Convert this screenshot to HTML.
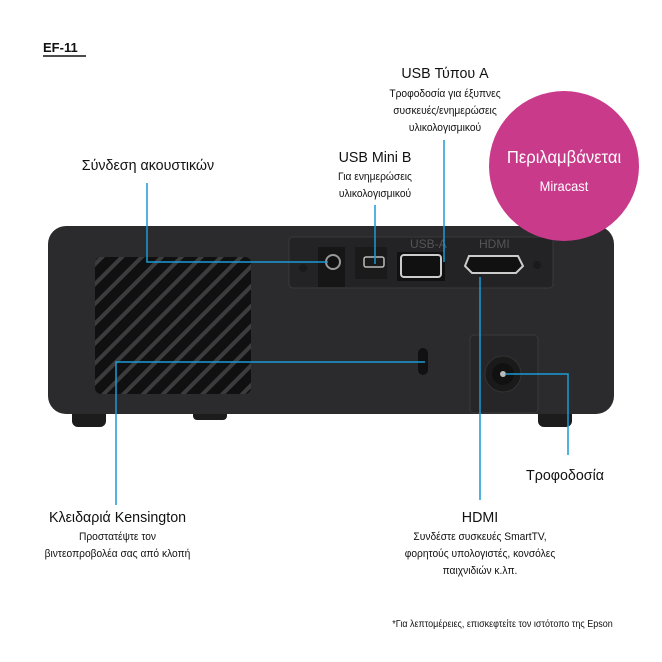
<!DOCTYPE html>
<html><head><meta charset="utf-8"><style>
body{margin:0;width:662px;height:662px;background:#fff;position:relative;overflow:hidden;font-family:"Liberation Sans","DejaVu Sans",sans-serif;color:#111}
.t{position:absolute;white-space:nowrap;text-align:center;transform-origin:center top}
.h{font-size:15px;transform:scaleX(0.95)}
.s{font-size:11px;line-height:17px;transform:scaleX(0.93)}
</style></head><body>
<svg width="662" height="662" style="position:absolute;left:0;top:0">
<defs><pattern id="g" width="14" height="14" patternUnits="userSpaceOnUse" patternTransform="rotate(-45)"><rect width="14" height="14" fill="#101011"/><rect width="14" height="4" fill="#3c3c3e"/></pattern></defs>
<rect x="72" y="405" width="34" height="22" rx="6" fill="#1c1c1d"/>
<rect x="193" y="405" width="34" height="15" rx="4" fill="#1c1c1d"/>
<rect x="538" y="405" width="34" height="22" rx="6" fill="#1c1c1d"/>
<rect x="48" y="226" width="566" height="188" rx="18" fill="#2b2b2d"/>
<rect x="95" y="257" width="156" height="137" rx="6" fill="url(#g)"/>
<rect x="289" y="237" width="264" height="51" rx="4" fill="#232325" stroke="#3a3a3c"/>
<rect x="318" y="247" width="27" height="40" fill="#161617"/>
<circle cx="333" cy="262" r="7" fill="#111" stroke="#999" stroke-width="2"/>
<circle cx="303" cy="268" r="4" fill="#1a1a1a"/>
<circle cx="537" cy="265" r="4" fill="#1a1a1a"/>
<rect x="355" y="247" width="32" height="32" fill="#1a1a1b"/>
<rect x="364" y="257" width="20" height="10" rx="2" fill="none" stroke="#bbb" stroke-width="1.5"/>
<rect x="397" y="252" width="48" height="29" fill="#111"/>
<rect x="401" y="255" width="40" height="22" rx="3" fill="none" stroke="#ccc" stroke-width="2"/>
<text x="410" y="248" font-size="12" fill="#555" font-family="Liberation Sans">USB-A</text>
<text x="479" y="248" font-size="12" fill="#555" font-family="Liberation Sans">HDMI</text>
<path d="M469 256 L518 256 L523 266 L516 273 L472 273 L465 266 Z" fill="#111" stroke="#ccc" stroke-width="2"/>
<rect x="418" y="348" width="10" height="27" rx="5" fill="#111"/>
<rect x="470" y="335" width="68" height="78" rx="4" fill="#262628" stroke="#3a3a3c"/>
<circle cx="503" cy="374" r="18" fill="#1a1a1b" stroke="#333"/>
<circle cx="503" cy="374" r="11" fill="#111"/>
<circle cx="503" cy="374" r="3" fill="#bbb"/>
<g stroke="#1a9ad6" stroke-width="1.5" fill="none">
<path d="M147 183 V262 H328"/>
<path d="M375 205 V264"/>
<path d="M444 140 V262"/>
<path d="M480 277 V500"/>
<path d="M116 505 V362 H425"/>
<path d="M505 374 H568 V455"/>
</g>
<circle cx="564" cy="166" r="75" fill="#c93a8a"/>
<line x1="43" y1="56" x2="86" y2="56" stroke="#111" stroke-width="1.5"/>
</svg>
<div class="t" style="left:43px;top:40px;font-size:13px;font-weight:bold">EF-11</div>
<div class="t h" style="left:370px;top:65px;width:150px">USB Τύπου A</div>
<div class="t s" style="left:355px;top:86px;width:180px">Τροφοδοσία για έξυπνες<br>συσκευές/ενημερώσεις<br>υλικολογισμικού</div>
<div class="t h" style="left:53px;top:157px;width:190px">Σύνδεση ακουστικών</div>
<div class="t h" style="left:312px;top:149px;width:126px">USB Mini B</div>
<div class="t s" style="left:312px;top:169px;width:126px">Για ενημερώσεις<br>υλικολογισμικού</div>
<div class="t" style="left:474px;top:147px;width:180px;font-size:17.5px;color:#fff;transform:scaleX(0.95)">Περιλαμβάνεται</div>
<div class="t" style="left:490px;top:178px;width:148px;font-size:14px;color:#fff;transform:scaleX(0.92)">Miracast</div>
<div class="t h" style="left:505px;top:467px;width:120px">Τροφοδοσία</div>
<div class="t h" style="left:20px;top:509px;width:195px">Κλειδαριά Kensington</div>
<div class="t s" style="left:20px;top:529px;width:195px">Προστατέψτε τον<br>βιντεοπροβολέα σας από κλοπή</div>
<div class="t h" style="left:410px;top:509px;width:140px">HDMI</div>
<div class="t s" style="left:375px;top:529px;width:210px">Συνδέστε συσκευές SmartTV,<br>φορητούς υπολογιστές, κονσόλες<br>παιχνιδιών κ.λπ.</div>
<div class="t" style="left:370px;top:619px;width:265px;font-size:10px;transform:scaleX(0.9)">*Για λεπτομέρειες, επισκεφτείτε τον ιστότοπο της Epson</div>
</body></html>
